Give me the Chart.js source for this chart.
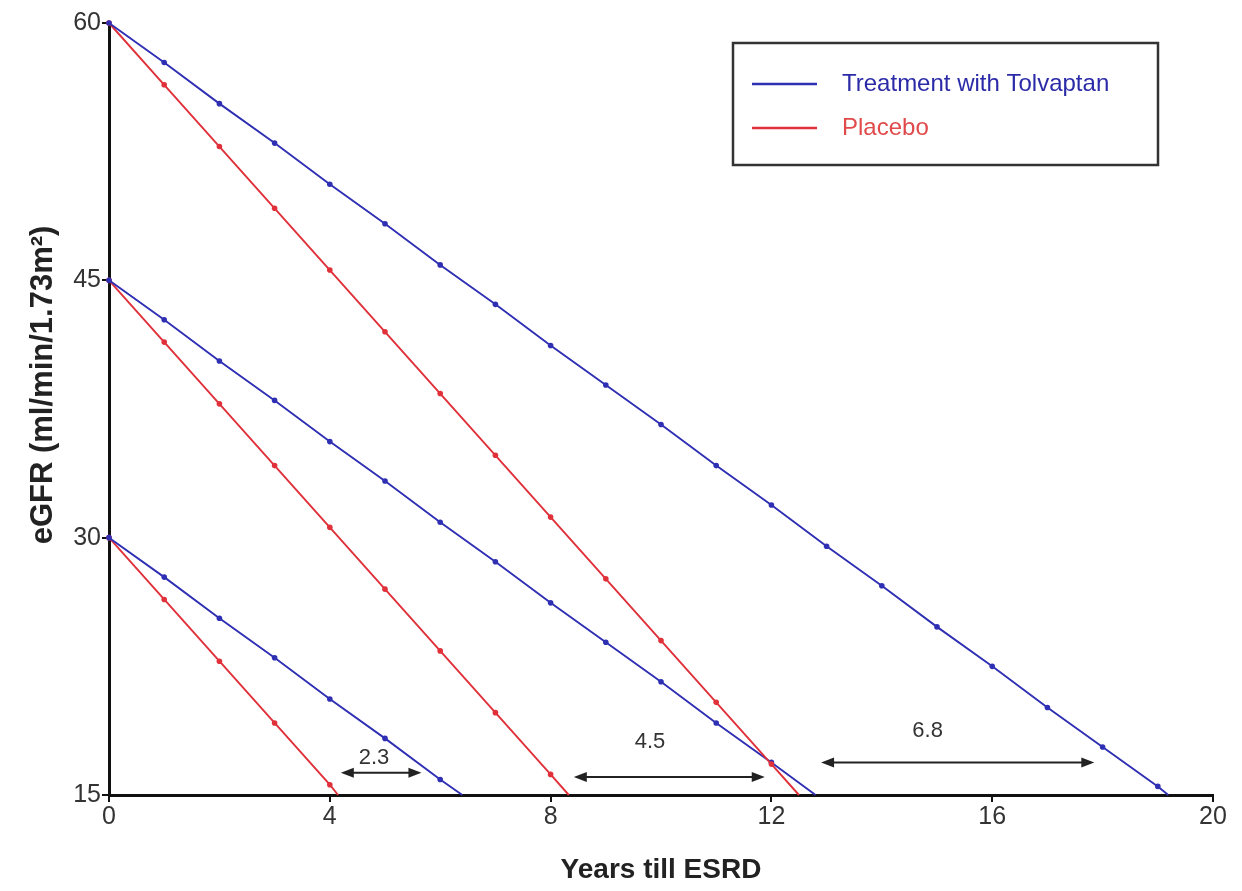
<!DOCTYPE html>
<html>
<head>
<meta charset="utf-8">
<script src="https://cdn.jsdelivr.net/npm/chart.js@4/dist/chart.umd.min.js"></script>
<style>
  html, body { margin: 0; padding: 0; background: #fff; }
  #wrap { width: 1242px; height: 891px; }
</style>
</head>
<body>
<div id="wrap"><canvas id="myChart"></canvas></div>
<script>
const BLUE = '#2f2fb4';
const RED = '#e0303a';
const FONT = '"Liberation Sans", Arial, sans-serif';

// eGFR values read at each whole year, starting at year 0
const tolvaptan60 = [60, 57.7, 55.3, 53.0, 50.6, 48.3, 45.9, 43.6, 41.2, 38.9, 36.6, 34.2, 31.9, 29.5, 27.2, 24.8, 22.5, 20.1, 17.8, 15.5];
const placebo60 = [60, 56.4, 52.8, 49.2, 45.6, 42.0, 38.4, 34.8, 31.2, 27.6, 24.0, 20.4, 16.8];
const tolvaptan45 = [45, 42.7, 40.3, 38.0, 35.6, 33.3, 30.9, 28.6, 26.2, 23.9, 21.6, 19.2, 16.9];
const placebo45 = [45, 41.4, 37.8, 34.2, 30.6, 27.0, 23.4, 19.8, 16.2];
const tolvaptan30 = [30, 27.7, 25.3, 23.0, 20.6, 18.3, 15.9];
const placebo30 = [30, 26.4, 22.8, 19.2, 15.6];

// year where each line reaches eGFR 15 (ESRD)
const tolvaptanEnd = [19.19, 12.8, 6.4];
const placeboEnd = [12.5, 8.33, 4.15];
const ESRD = 15;

const xTicks = [0, 4, 8, 12, 16, 20];
const yTicks = [15, 30, 45, 60];

// gap annotations
const gapFrom = [4.2, 8.42, 12.9];
const gapTo = [5.66, 11.88, 17.85];
const gapLabels = ['2.3', '4.5', '6.8'];
const gapArrowY = [16.29, 16.05, 16.9];
const gapTextX = [4.8, 9.8, 14.83];
const gapTextY = [17.15, 18.07, 18.75];

const Y_TITLE = 'eGFR (ml/min/1.73m²)';

function toPoints(values, end) {
  const pts = values.map((v, i) => ({ x: i, y: v }));
  pts.push({ x: end, y: ESRD });
  return pts;
}

function line(label, values, end, color) {
  return {
    label: label,
    data: toPoints(values, end),
    borderColor: color,
    backgroundColor: color,
    borderWidth: 1.9,
    pointRadius: (ctx) => (ctx.dataIndex === values.length ? 0 : 2.8),
    pointHoverRadius: 0,
    pointBorderWidth: 0,
    clip: false,
  };
}

const arrowsPlugin = {
  id: 'gapArrows',
  afterDatasetsDraw(chart) {
    const { ctx, scales: { x, y } } = chart;
    ctx.save();
    ctx.lineWidth = 2;
    gapLabels.forEach((lab, i) => {
      const x1 = x.getPixelForValue(gapFrom[i]);
      const x2 = x.getPixelForValue(gapTo[i]);
      const yy = y.getPixelForValue(gapArrowY[i]);
      ctx.strokeStyle = '#222';
      ctx.fillStyle = '#222';
      ctx.beginPath();
      ctx.moveTo(x1 + 6, yy);
      ctx.lineTo(x2 - 6, yy);
      ctx.stroke();
      [[x1, 1], [x2, -1]].forEach(([px, dir]) => {
        ctx.beginPath();
        ctx.moveTo(px, yy);
        ctx.lineTo(px + dir * 13, yy - 5);
        ctx.lineTo(px + dir * 13, yy + 5);
        ctx.closePath();
        ctx.fill();
      });
      ctx.font = '22px ' + FONT;
      ctx.textAlign = 'center';
      ctx.textBaseline = 'middle';
      ctx.fillStyle = '#333';
      ctx.fillText(lab, x.getPixelForValue(gapTextX[i]), y.getPixelForValue(gapTextY[i]));
    });
    ctx.restore();
  },
};

// legend box and rotated y title, drawn by hand
const legendPlugin = {
  id: 'boxLegend',
  afterDraw(chart) {
    const { ctx, chartArea } = chart;
    const left = chartArea.left + 624;
    const top = chartArea.top + 20;
    ctx.save();
    ctx.strokeStyle = '#333';
    ctx.lineWidth = 2.5;
    ctx.strokeRect(left, top, 425, 122);
    ctx.font = '24px ' + FONT;
    ctx.textBaseline = 'middle';
    [['Treatment with Tolvaptan', BLUE, '#2b2ba8', 41], ['Placebo', RED, '#e04a4a', 85]].forEach(([t, c, tc, dy]) => {
      ctx.strokeStyle = c;
      ctx.lineWidth = 2.5;
      ctx.beginPath();
      ctx.moveTo(left + 19, top + dy);
      ctx.lineTo(left + 84, top + dy);
      ctx.stroke();
      ctx.fillStyle = tc;
      ctx.fillText(t, left + 109, top + dy);
    });

    ctx.translate(43, chartArea.top + 362);
    ctx.rotate(-Math.PI / 2);
    ctx.font = 'bold 31px ' + FONT;
    ctx.textAlign = 'center';
    ctx.textBaseline = 'middle';
    ctx.fillStyle = '#222';
    ctx.fillText(Y_TITLE, 0, 0);
    ctx.restore();
  },
};

const ctx = document.getElementById('myChart');

const myChart = new Chart(ctx, {
  type: 'line',
  data: {
    datasets: [
      line('Treatment with Tolvaptan', tolvaptan60, tolvaptanEnd[0], BLUE),
      line('Placebo', placebo60, placeboEnd[0], RED),
      line('Treatment with Tolvaptan', tolvaptan45, tolvaptanEnd[1], BLUE),
      line('Placebo', placebo45, placeboEnd[1], RED),
      line('Treatment with Tolvaptan', tolvaptan30, tolvaptanEnd[2], BLUE),
      line('Placebo', placebo30, placeboEnd[2], RED),
    ],
  },
  options: {
    responsive: true,
    maintainAspectRatio: false,
    animation: false,
    layout: { padding: { left: 0, right: 29, top: 23, bottom: 0 } },
    plugins: {
      legend: { display: false },
      tooltip: { enabled: false },
    },
    scales: {
      x: {
        type: 'linear',
        min: 0,
        max: 20,
        afterBuildTicks: (axis) => { axis.ticks = xTicks.map((v) => ({ value: v })); },
        afterFit: (axis) => { axis.height = 96; },
        border: { color: '#111', width: 3 },
        grid: { drawOnChartArea: false, drawTicks: true, tickLength: 7, color: '#111', lineWidth: 2 },
        ticks: { color: '#333', font: { family: FONT, size: 25 }, padding: 0 },
        title: {
          display: true,
          text: 'Years till ESRD',
          color: '#222',
          font: { family: FONT, size: 28, weight: 'bold' },
          padding: { top: 0, bottom: 4 },
        },
      },
      y: {
        type: 'linear',
        min: 15,
        max: 60,
        afterBuildTicks: (axis) => { axis.ticks = yTicks.map((v) => ({ value: v })); },
        afterFit: (axis) => { axis.width = 109; },
        border: { color: '#111', width: 3 },
        grid: { drawOnChartArea: false, drawTicks: true, tickLength: 7, color: '#111', lineWidth: 2 },
        ticks: { color: '#333', font: { family: FONT, size: 25 }, padding: 1 },
      },
    },
  },
  plugins: [arrowsPlugin, legendPlugin],
});
</script>
</body>
</html>
